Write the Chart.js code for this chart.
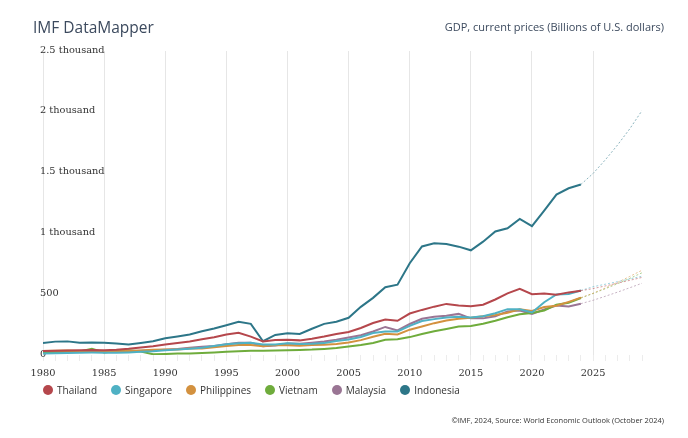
<!DOCTYPE html>
<html><head><meta charset="utf-8">
<script src="https://cdn.jsdelivr.net/npm/chart.js@4.4.1/dist/chart.umd.min.js"></script>
<style>
html,body{margin:0;padding:0;background:#fff;}
#wrap{position:relative;width:688px;height:438px;overflow:hidden;font-family:'Open Sans',sans-serif;}
#c{position:absolute;left:0;top:0;}
#title{position:absolute;left:33px;top:17px;font-size:15.5px;line-height:20px;color:#3c4a5e;white-space:nowrap;}
#subtitle{position:absolute;right:24px;top:20px;font-size:11px;line-height:14px;color:#3c4a5e;white-space:nowrap;}
#legend{position:absolute;left:43px;top:383px;display:flex;font-size:10px;line-height:14px;color:#333;white-space:nowrap;}
#legend .it{display:flex;align-items:center;margin-right:14px;}
#legend .dot{width:10px;height:10px;border-radius:50%;margin-right:4px;}
#footer{position:absolute;right:24px;top:415px;font-size:7.5px;line-height:10px;color:#333;white-space:nowrap;}
</style></head>
<body>
<div id="wrap">
<canvas id="c" width="688" height="438"></canvas>
<div id="title">IMF DataMapper</div>
<div id="subtitle">GDP, current prices (Billions of U.S. dollars)</div>
<div id="legend"></div>
<div id="footer">©IMF, 2024, Source: World Economic Outlook (October 2024)</div>
</div>
<script>
const years = [];
for (let y = 1980; y <= 2029; y++) years.push(y);
const forecastFrom = 2024;

const thailand = [32.4,34.8,36.6,40.0,41.8,38.9,43.1,50.5,61.7,72.3,
 85.6,98.2,111.5,128.9,146.7,169.3,183.0,150.9,112.0,122.6,
 126.4,120.3,134.3,152.3,172.9,189.3,221.8,262.9,291.4,281.7,
 341.1,370.8,397.6,420.3,407.4,401.3,413.4,456.4,506.8,544.1,
 500.5,506.0,495.6,514.9,528.9,546.2,568,591,614,638];
const singapore = [12.1,14.2,16.1,18.5,19.9,19.1,18.8,21.5,26.0,31.1,
 38.9,45.5,52.1,60.6,73.7,87.8,96.3,100.1,85.7,86.3,
 96.1,89.8,92.5,97.7,115.0,127.8,148.6,180.9,193.6,194.2,
 239.8,279.4,295.1,307.6,314.9,308.0,319.0,343.3,376.9,375.5,
 349.5,434.1,498.5,501.4,530.7,561.7,582,603,625,648];
const philippines = [32.5,35.6,37.1,33.2,31.4,30.7,29.9,33.2,37.9,42.6,
 44.3,45.4,52.9,54.4,64.1,74.1,82.8,82.3,72.2,82.9,
 81.0,76.3,81.4,83.9,91.4,103.1,122.2,149.4,174.2,168.5,
 208.4,234.2,261.9,283.9,297.5,306.4,318.6,328.5,346.8,376.8,
 361.8,394.1,404.4,437.1,471.5,507.7,551,597,646,697];
const vietnam = [22,24,27,30,52,20,32,40,28,6.3,
 8.0,11.5,12.5,16.0,20.5,26.4,31.3,34.0,34.5,36.6,
 39.6,41.3,44.4,50.0,57.8,70.0,82.8,98.3,124.8,129.0,
 147.2,172.6,195.6,213.7,233.5,239.3,257.1,281.4,310.1,334.4,
 346.3,366.5,413.8,429.7,468.4,506,545,586,630,676];
const malaysia = [24.9,25.0,26.8,30.3,33.9,31.8,28.2,32.2,35.3,38.8,
 44.0,49.1,59.2,66.9,74.5,88.8,100.9,100.0,72.2,79.1,
 93.8,92.8,101.0,110.2,124.7,143.5,162.7,193.6,230.8,202.3,
 255.0,297.9,314.4,323.3,338.1,301.4,301.3,319.1,358.8,365.2,
 337.3,373.8,407.6,399.7,422.2,450,483,517,553,590];
const indonesia = [99.3,110,112,100.5,102,100.5,94,87,99,113,
 138,153,168,195,218,245,274,256,113,165,
 178,173,216,256,274,306,396,470,558,578,
 755,893,918,913,891,861,932,1016,1042,1119,
 1059,1187,1319,1371,1402,1493,1605,1727,1860,2010];

const countries = ['Thailand','Singapore','Philippines','Vietnam','Malaysia','Indonesia'];
const seriesValues = [thailand, singapore, philippines, vietnam, malaysia, indonesia];
const colors = ['#b5474c','#4fb1c4','#d3913f','#6fac3c','#9a7594','#2d7688'];
const fadedColors = ['rgba(181,71,76,0.55)','rgba(79,177,196,0.55)','rgba(211,145,63,0.55)','rgba(111,172,60,0.55)','rgba(154,117,148,0.55)','rgba(45,118,136,0.55)'];
const yTicks = [0,500,1000,1500,2000,2500];
const yTickLabels = ['0','500','1 thousand','1.5 thousand','2 thousand','2.5 thousand'];

const fIdx = years.indexOf(forecastFrom);
const datasets = countries.map((name, i) => ({
  label: name,
  data: years.map((yr, k) => ({x: yr, y: seriesValues[i][k]})),
  borderColor: colors[i],
  backgroundColor: colors[i],
  borderWidth: 2,
  pointRadius: 0,
  pointHoverRadius: 0,
  tension: 0,
  fill: false,
  segment: {
    borderDash: ctx => ctx.p0DataIndex >= fIdx ? [2, 2] : undefined,
    borderWidth: ctx => ctx.p0DataIndex >= fIdx ? 1 : undefined,
    borderColor: ctx => ctx.p0DataIndex >= fIdx ? fadedColors[i] : undefined
  }
}));

const chart = new Chart(document.getElementById('c'), {
  type: 'line',
  data: { datasets },
  options: {
    responsive: false,
    animation: false,
    devicePixelRatio: 1,
    layout: { padding: { left: 43, right: 46, top: 51, bottom: 58 } },
    plugins: { legend: { display: false }, tooltip: { enabled: false } },
    scales: {
      x: {
        type: 'linear',
        min: years[0],
        max: years[years.length - 1],
        border: { display: false },
        grid: {
          color: ctx => (ctx.tick && ctx.tick.value % 5 === 0) ? '#e6e6e6' : 'rgba(0,0,0,0)',
          tickColor: '#ececec',
          tickLength: 6,
          lineWidth: 1
        },
        ticks: {
          stepSize: 1,
          autoSkip: false,
          maxRotation: 0,
          padding: 7,
          color: '#333',
          font: { family: 'DejaVu Serif', size: 9.8 },
          callback: v => (v % 5 === 0 ? String(v) : '')
        },
        afterFit: s => { s.height = 25; }
      },
      y: {
        min: 0,
        max: 2500,
        border: { display: false },
        grid: { display: false, drawTicks: false },
        afterBuildTicks: s => { s.ticks = yTicks.map(v => ({value: v})); },
        ticks: {
          mirror: true,
          padding: -3,
          labelOffset: -1,
          color: '#333',
          font: { family: 'DejaVu Serif', size: 9.8 },
          callback: v => yTickLabels[yTicks.indexOf(v)]
        },
        afterFit: s => { s.width = 0; }
      }
    }
  }
});

const legend = document.getElementById('legend');
chart.data.datasets.forEach(ds => {
  const it = document.createElement('div'); it.className = 'it';
  const dot = document.createElement('span'); dot.className = 'dot'; dot.style.background = ds.borderColor;
  const tx = document.createElement('span'); tx.textContent = ds.label;
  it.appendChild(dot); it.appendChild(tx); legend.appendChild(it);
});
</script>
</body></html>
